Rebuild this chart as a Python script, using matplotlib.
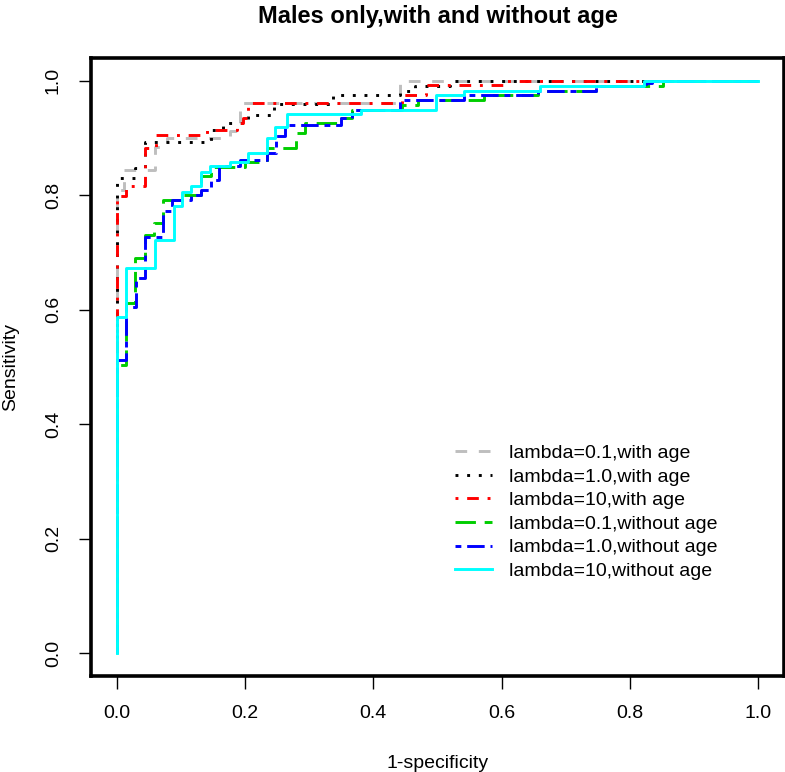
import matplotlib
matplotlib.use("Agg")
import matplotlib.pyplot as plt

plt.rcParams['font.family'] = ['Liberation Sans', 'DejaVu Sans']

# ROC points, one per threshold run: (fpr where the run ends, tpr of the run)
gray_fpr = [0, 0.012, 0.059, 0.078, 0.176, 0.192, 0.441, 1.0]
gray_tpr = [0, 0.809, 0.844, 0.885, 0.900, 0.912, 0.962, 1.0]

black_fpr = [0, 0.028, 0.044, 0.147, 0.165, 0.204, 0.245, 0.337, 0.441, 0.465, 0.519, 1.0]
black_tpr = [0, 0.830, 0.848, 0.893, 0.914, 0.926, 0.940, 0.960, 0.975, 0.983, 0.991, 1.0]

red_fpr = [0, 0.014, 0.044, 0.062, 0.140, 0.187, 0.197, 0.204, 0.445, 0.482, 0.602, 1.0]
red_tpr = [0, 0.798, 0.816, 0.883, 0.906, 0.914, 0.926, 0.935, 0.962, 0.975, 0.993, 1.0]

green_fpr = [0, 0.014, 0.028, 0.044, 0.058, 0.072, 0.101, 0.132, 0.147, 0.200, 0.234,
             0.280, 0.293, 0.350, 0.366, 0.444, 0.469, 0.573, 0.656, 0.747, 0.851, 1.0]
green_tpr = [0, 0.503, 0.612, 0.690, 0.730, 0.752, 0.792, 0.800, 0.834, 0.850, 0.859,
             0.883, 0.909, 0.926, 0.935, 0.949, 0.958, 0.967, 0.975, 0.983, 0.991, 1.0]

blue_fpr = [0, 0.014, 0.030, 0.044, 0.072, 0.087, 0.116, 0.132, 0.147, 0.160, 0.192, 0.234,
            0.249, 0.262, 0.350, 0.366, 0.441, 0.542, 0.656, 0.747, 0.825, 0.835, 1.0]
blue_tpr = [0, 0.512, 0.605, 0.656, 0.728, 0.772, 0.792, 0.800, 0.809, 0.827, 0.851, 0.862,
            0.874, 0.903, 0.923, 0.935, 0.949, 0.967, 0.975, 0.983, 0.991, 0.996, 1.0]

cyan_fpr = [0, 0.014, 0.059, 0.089, 0.102, 0.116, 0.132, 0.145, 0.176, 0.204, 0.234, 0.246,
            0.265, 0.381, 0.498, 0.542, 0.659, 0.822, 1.0]
cyan_tpr = [0, 0.588, 0.673, 0.722, 0.781, 0.806, 0.816, 0.840, 0.852, 0.859, 0.874, 0.900,
            0.920, 0.942, 0.949, 0.975, 0.983, 0.991, 1.0]

labels = ['lambda=0.1,with age', 'lambda=1.0,with age', 'lambda=10,with age',
          'lambda=0.1,without age', 'lambda=1.0,without age', 'lambda=10,without age']
ticks = [0.0, 0.2, 0.4, 0.6, 0.8, 1.0]
tick_labels = ['0.0', '0.2', '0.4', '0.6', '0.8', '1.0']

curves = [
    (gray_fpr, gray_tpr, '#BEBEBE', (0, (4, 4))),
    (black_fpr, black_tpr, 'black', (0, (1, 3))),
    (red_fpr, red_tpr, '#FF0000', (0, (1, 3, 4, 3))),
    (green_fpr, green_tpr, '#00CD00', (0, (7, 3))),
    (blue_fpr, blue_tpr, '#0000FF', (0, (2, 2, 6, 2))),
    (cyan_fpr, cyan_tpr, '#00FFFF', '-'),
]

W, H = 785, 772
fig = plt.figure(figsize=(W / 100, H / 100), dpi=100)
ax = fig.add_axes([91 / W, 96 / H, 693 / W, 618 / H])

for (fpr, tpr, col, ls), lab in zip(curves, labels):
    ax.plot(fpr, tpr, drawstyle='steps-pre', color=col, linestyle=ls, lw=2.1, label=lab)

ax.set_xlim(-0.04, 1.04)
ax.set_ylim(-0.04, 1.04)
ax.set_xticks(ticks)
ax.set_xticklabels(tick_labels)
ax.set_yticks(ticks)
ax.set_yticklabels(tick_labels, rotation=90, va='center')
ax.tick_params(direction='out', length=9, width=1, labelsize=14, pad=12)
for sp in ax.spines.values():
    sp.set_linewidth(2.6)

ax.legend(loc='upper left', bbox_to_anchor=(0.525, 0.375), frameon=False, fontsize=14,
          borderpad=0, borderaxespad=0, handlelength=1.9, handletextpad=0.87,
          labelspacing=0.31)

fig.text(438 / W, 1 - 17 / H, 'Males only,with and without age', ha='center', va='center',
         fontsize=17, fontweight='bold')
fig.text(438 / W, 9 / H, '1-specificity', ha='center', va='center', fontsize=14)
fig.text(11 / W, 0.5 + (96 + 309 - H / 2) / H, 'Sensitivity', ha='center', va='center',
         rotation=90, fontsize=14)

fig.savefig('out.png', dpi=100, facecolor='white')
